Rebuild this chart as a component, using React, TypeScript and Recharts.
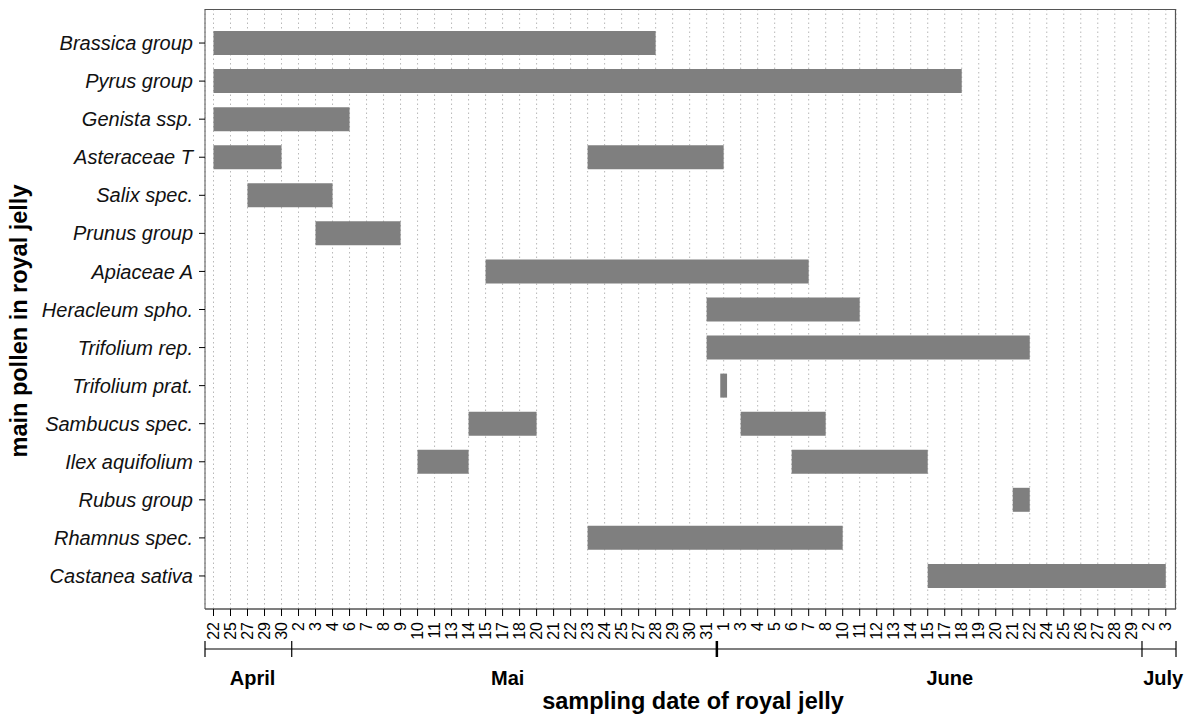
import { BarChart, Bar, XAxis, YAxis, CartesianGrid } from "recharts"

// main pollen types, top to bottom
const species = [
	"Brassica group",
	"Pyrus group",
	"Genista ssp.",
	"Asteraceae T",
	"Salix spec.",
	"Prunus group",
	"Apiaceae A",
	"Heracleum spho.",
	"Trifolium rep.",
	"Trifolium prat.",
	"Sambucus spec.",
	"Ilex aquifolium",
	"Rubus group",
	"Rhamnus spec.",
	"Castanea sativa",
]

// sampling dates (one tick each)
const dateLabels = [
	"22", "25", "27", "29", "30",
	"2", "3", "4", "6", "7", "8", "9", "10", "11", "13", "14", "15", "17", "18", "20",
	"21", "22", "23", "24", "25", "27", "28", "29", "30", "31",
	"1", "3", "4", "5", "6", "7", "8", "10", "11", "12", "13", "14", "15", "17", "18",
	"19", "20", "21", "22", "24", "25", "26", "27", "28", "29",
	"2", "3",
]

const months = ["April", "Mai", "June", "July"]
// index of first sampling date in each month
const monthStart = [0, 5, 30, 55]

// periods as [from, to] in sampling-date index
const firstPeriod: ([number, number] | null)[] = [
	[0, 26],
	[0, 44],
	[0, 8],
	[0, 4],
	[2, 7],
	[6, 11],
	[16, 35],
	[29, 38],
	[29, 48],
	[29.8, 30.2],
	[15, 19],
	[12, 15],
	[47, 48],
	[22, 37],
	[42, 56],
]

const secondPeriod: ([number, number] | null)[] = [
	null,
	null,
	null,
	[22, 30],
	null,
	null,
	null,
	null,
	null,
	null,
	[31, 36],
	[34, 42],
	null,
	null,
	null,
]

const data = species.map((name, i) => ({
	name,
	p1: firstPeriod[i],
	p2: secondPeriod[i],
}))

const FONT = "'Liberation Sans', Arial, sans-serif"
const DOMAIN: [number, number] = [-0.5, 56.6]
const dateTicks = dateLabels.map((_, i) => i)
const monthBounds = [DOMAIN[0], ...monthStart.slice(1).map((s) => s - 0.4), DOMAIN[1]]
const monthLabelAt = [2.3, 17.3, 43.3, 55.85]

// plot box in pixels
const TOP = 9
const BOTTOM = 609
const RIGHT = 1176

const DateTick = ({ x, y, payload }: any) => (
	<text
		x={x}
		y={y}
		transform={`rotate(-90 ${x} ${y})`}
		textAnchor="end"
		dominantBaseline="central"
		fontFamily={FONT}
		fontSize={16}
		fill="#000"
	>
		{dateLabels[payload.value]}
	</text>
)

const MonthTick = ({ x, y, payload }: any) => {
	const mi = monthLabelAt.indexOf(payload.value)
	if (mi >= 0) {
		return (
			<text
				x={x}
				y={y + 29}
				textAnchor="middle"
				dominantBaseline="central"
				fontFamily={FONT}
				fontWeight="bold"
				fontSize={20}
				fill="#000"
			>
				{months[mi]}
			</text>
		)
	}
	const major = payload.value === monthBounds[2]
	return (
		<line
			x1={x}
			x2={x}
			y1={y - 8}
			y2={y + 8}
			stroke="#000"
			strokeWidth={major ? 2.5 : 1.2}
		/>
	)
}

export default function App() {
	return (
		<div style={{ width: 1192, height: 714, background: "#fff" }}>
			<style>{"body{margin:0}"}</style>
			<BarChart
				width={1192}
				height={714}
				data={data}
				layout="vertical"
				margin={{ top: TOP, right: 1192 - RIGHT, left: 0, bottom: 0 }}
			>
				<CartesianGrid
					xAxisId="d"
					yAxisId="a"
					horizontal={false}
					stroke="#b8b8b8"
					strokeDasharray="1.5 3"
				/>
				<CartesianGrid
					xAxisId="d"
					yAxisId="a"
					vertical={false}
					horizontalPoints={[TOP + 0.5, BOTTOM]}
					stroke="#555"
					strokeWidth={1.2}
				/>
				<CartesianGrid
					xAxisId="d"
					yAxisId="a"
					horizontal={false}
					verticalPoints={[RIGHT - 0.5]}
					stroke="#555"
					strokeWidth={1.2}
				/>
				<XAxis
					xAxisId="d"
					type="number"
					domain={DOMAIN}
					allowDataOverflow
					ticks={dateTicks}
					interval={0}
					height={40}
					tick={<DateTick />}
					tickSize={7}
					tickMargin={6}
					axisLine={{ stroke: "#555" }}
					tickLine={{ stroke: "#000" }}
				/>
				<XAxis
					xAxisId="m"
					type="number"
					domain={DOMAIN}
					allowDataOverflow
					ticks={[...monthBounds, ...monthLabelAt]}
					interval={0}
					height={65}
					tick={<MonthTick />}
					tickSize={0}
					tickMargin={0}
					tickLine={false}
					axisLine={{ stroke: "#000", strokeWidth: 1.2 }}
					label={{
						content: () => (
							<text
								x={693}
								y={709}
								textAnchor="middle"
								fontFamily={FONT}
								fontWeight="bold"
								fontSize={23.5}
								fill="#000"
							>
								sampling date of royal jelly
							</text>
						),
					}}
				/>
				<YAxis
					yAxisId="a"
					type="category"
					dataKey="name"
					width={205}
					padding={{ top: 15, bottom: 14 }}
					tickSize={6}
					tickMargin={6}
					tick={{ fontFamily: FONT, fontStyle: "italic", fontSize: 20, fill: "#111" }}
					axisLine={{ stroke: "#555" }}
					tickLine={{ stroke: "#000" }}
					label={{
						content: () => (
							<text
								transform="translate(19 321) rotate(-90)"
								textAnchor="middle"
								dominantBaseline="central"
								fontFamily={FONT}
								fontWeight="bold"
								fontSize={23.5}
								fill="#000"
							>
								main pollen in royal jelly
							</text>
						),
					}}
				/>
				<YAxis
					yAxisId="b"
					type="category"
					dataKey="name"
					hide
					padding={{ top: 15, bottom: 14 }}
				/>
				<Bar
					xAxisId="d"
					yAxisId="a"
					dataKey="p1"
					fill="#7f7f7f"
					barSize={24}
					isAnimationActive={false}
				/>
				<Bar
					xAxisId="d"
					yAxisId="b"
					dataKey="p2"
					fill="#7f7f7f"
					barSize={24}
					isAnimationActive={false}
				/>
			</BarChart>
		</div>
	)
}
